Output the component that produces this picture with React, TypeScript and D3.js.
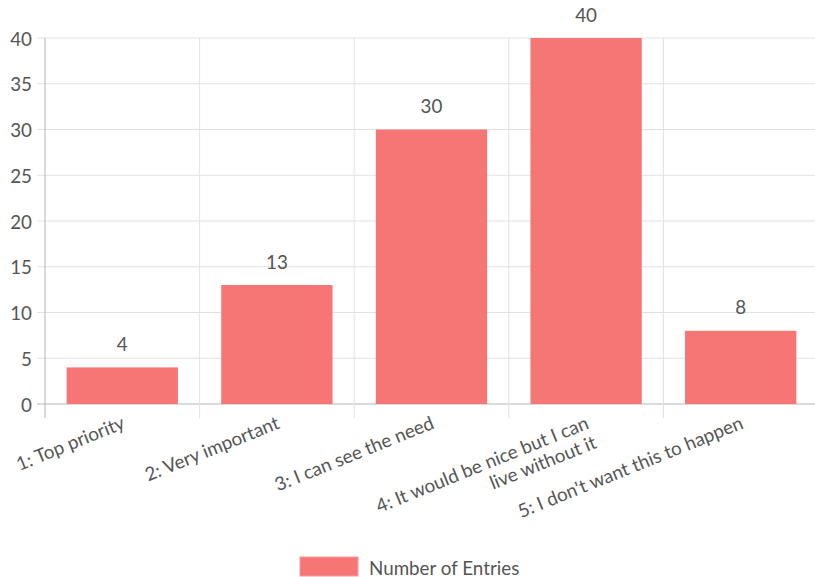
import React from "react";
import * as d3 from "d3";

const categories: string[][] = [
  ["1: Top priority"],
  ["2: Very important"],
  ["3: I can see the need"],
  ["4: It would be nice but I can", "live without it"],
  ["5: I don't want this to happen"],
];
const values: number[] = [4, 13, 30, 40, 8];
const yTicks: number[] = [0, 5, 10, 15, 20, 25, 30, 35, 40];
const seriesName = "Number of Entries";

const W = 815;
const H = 577;
const left = 45;
const right = 818;
const top = 38;
const bottom = 404;
const barColor = "#f67676";
const textColor = "#555";
const font = "Lato, 'Open Sans', sans-serif";
const angle = -22;
const fs = 18.8;

export default function App() {
  const keys = categories.map((_, i) => String(i));
  const x = d3.scaleBand<string>().domain(keys).range([left, right]).paddingInner(0).paddingOuter(0);
  const y = d3.scaleLinear().domain([0, 40]).range([bottom, top]);
  const bw = x.bandwidth() * 0.72;
  const boundaries = keys.map((k) => x(k) as number);

  return (
    <svg
      width={W}
      height={H}
      style={{ position: "absolute", left: 0, top: 0, background: "#fff" }}
      fontFamily={font}
    >
      {yTicks.map((t) => (
        <line key={"h" + t} x1={37} x2={W} y1={y(t)} y2={y(t)} stroke={t === 0 ? "#b5b5b5" : "#e2e2e2"} strokeWidth={1} />
      ))}
      {boundaries.map((b, i) => (
        <line key={"v" + i} x1={b} x2={b} y1={top} y2={418} stroke={i === 0 ? "#b5b5b5" : "#e2e2e2"} strokeWidth={1} />
      ))}
      {yTicks.map((t) => (
        <text key={"yl" + t} x={32} y={y(t)} textAnchor="end" dominantBaseline="central" fontSize={fs} fill={textColor}>
          {t}
        </text>
      ))}
      {values.map((v, i) => {
        const cx = (x(keys[i]) as number) + x.bandwidth() / 2;
        return (
          <g key={"b" + i}>
            <rect x={cx - bw / 2} y={y(v)} width={bw} height={y(0) - y(v)} fill={barColor} />
            <text x={cx} y={y(v) - 24} textAnchor="middle" dominantBaseline="central" fontSize={fs} fill={textColor}>
              {v}
            </text>
          </g>
        );
      })}
      {categories.map((lines, i) => {
        const cx = (x(keys[i]) as number) + x.bandwidth() / 2;
        return (
          <g key={"xl" + i} transform={`translate(${cx + 1},${421}) rotate(${angle})`}>
            {lines.map((ln, j) => (
              <text key={j} x={0} y={j * 21} textAnchor="end" dominantBaseline="central" fontSize={fs} fill={textColor}>
                {ln}
              </text>
            ))}
          </g>
        );
      })}
      <rect x={300} y={557} width={58} height={19} fill={barColor} stroke="#f59a9a" strokeWidth={1} />
      <text x={369} y={567} dominantBaseline="central" fontSize={fs} fill={textColor}>
        {seriesName}
      </text>
    </svg>
  );
}
